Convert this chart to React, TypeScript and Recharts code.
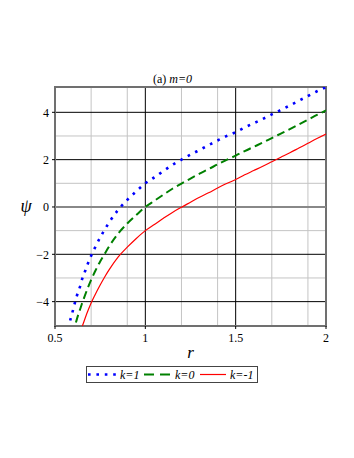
import { LineChart, Line, XAxis, YAxis, CartesianGrid, ReferenceLine, ReferenceArea, Legend } from "recharts";

// r samples and psi values
const rValues = [
  0.575, 0.58, 0.59, 0.6, 0.61, 0.62, 0.63, 0.64, 0.65, 0.66,
  0.68, 0.7, 0.72, 0.75, 0.775, 0.8, 0.85, 0.9, 0.95, 1,
  1.05, 1.1, 1.15, 1.2, 1.25, 1.3, 1.35, 1.4, 1.45, 1.5,
  1.55, 1.6, 1.65, 1.7, 1.75, 1.8, 1.85, 1.9, 1.95, 2,
];

const psiK1 = [
  -5.15, -4.93, -4.63, -4.35, -4.05, -3.78, -3.55, -3.33, -3.05, -2.85,
  -2.43, -2.06, -1.74, -1.29, -0.96, -0.65, -0.12, 0.3, 0.66, 1.0,
  1.25, 1.52, 1.78, 2.0, 2.21, 2.41, 2.61, 2.81, 3.0, 3.16,
  3.36, 3.54, 3.72, 3.91, 4.1, 4.29, 4.49, 4.69, 4.89, 5.06,
];

const psiK0 = [
  null, null, null, -5.4, -5.05, -4.77, -4.52, -4.3, -4.07, -3.86,
  -3.45, -3.08, -2.75, -2.3, -1.98, -1.66, -1.12, -0.7, -0.34, 0.0,
  0.26, 0.52, 0.77, 0.99, 1.2, 1.41, 1.6, 1.8, 1.99, 2.17,
  2.36, 2.54, 2.72, 2.91, 3.1, 3.29, 3.49, 3.69, 3.89, 4.08,
];

const psiKm1 = [
  null, null, null, null, null, null, null, -5.33, -5.07, -4.85,
  -4.43, -4.06, -3.74, -3.3, -2.96, -2.65, -2.11, -1.7, -1.33, -1.0,
  -0.74, -0.48, -0.23, -0.01, 0.2, 0.41, 0.6, 0.8, 0.99, 1.16,
  1.36, 1.54, 1.72, 1.91, 2.1, 2.29, 2.49, 2.69, 2.89, 3.08,
];

const xTicks = [0.5, 1, 1.5, 2];
const yTicks = [-4, -2, 0, 2, 4];
const xMinorGrid = [0.6, 0.7, 0.8, 0.9, 1.1, 1.2, 1.3, 1.4, 1.6, 1.7, 1.8, 1.9];
const xMajorGrid = [1, 1.5];
const yMinorGrid = [-3, -1, 1, 3];
const yMajorGrid = [-4, -2, 2, 4];
const xDomain: [number, number] = [0.5, 2];
const yDomain: [number, number] = [-5.03, 5.07];

const data = rValues.map((r, i) => ({ r, k1: psiK1[i], k0: psiK0[i], km1: psiKm1[i] }));

const FONT = "'Liberation Serif', 'Times New Roman', serif";
const tickStyle = { fontFamily: FONT, fontSize: 12, fill: "#000" };

const fmtY = (v: number) => (v < 0 ? `\u2212${Math.abs(v)}` : `${v}`);

const renderLegend = () => (
  <svg width={172} height={17} style={{ display: "block" }}>
    <rect x={0.5} y={0.5} width={171} height={16} fill="#fff" stroke="#444" strokeWidth={1} />
    <line x1={2} y1={8.5} x2={31} y2={8.5} stroke="#0000ff" strokeWidth={2.6} strokeDasharray="2.6 5.8" />
    <text x={34} y={13} fontFamily={FONT} fontSize={12} fontStyle="italic">k=1</text>
    <line x1={58} y1={8.5} x2={85} y2={8.5} stroke="#008000" strokeWidth={2} strokeDasharray="10 6" />
    <text x={89} y={13} fontFamily={FONT} fontSize={12} fontStyle="italic">k=0</text>
    <line x1={114} y1={8.5} x2={140} y2={8.5} stroke="#ff0000" strokeWidth={1.2} />
    <text x={144} y={13} fontFamily={FONT} fontSize={12} fontStyle="italic">k=-1</text>
  </svg>
);

export default function App() {
  return (
    <div style={{ position: "absolute", left: 0, top: 0, width: 354, height: 458, background: "#fff" }}>
      <div
        style={{
          position: "absolute", left: 122, top: 73, width: 101, textAlign: "center",
          fontFamily: FONT, fontSize: 12, lineHeight: "12px", zIndex: 2,
        }}
      >
        (a) <i>m=0</i>
      </div>
      <LineChart width={354} height={458} data={data} margin={{ top: 87, right: 28, bottom: 0, left: 0 }}>
        <CartesianGrid stroke="#c4c4c4" strokeWidth={1} verticalValues={xMinorGrid} horizontalValues={yMinorGrid} />
        <CartesianGrid stroke="#000" strokeWidth={1} verticalValues={xMajorGrid} horizontalValues={yMajorGrid} />
        <ReferenceLine y={0} stroke="#888" strokeWidth={2} />
        <XAxis
          type="number"
          dataKey="r"
          domain={xDomain}
          ticks={xTicks}
          allowDataOverflow
          height={132}
          axisLine={false}
          tickSize={3}
          tickMargin={4}
          tickLine={{ stroke: "#000" }}
          tick={tickStyle}
          label={({ viewBox }: any) => (
            <text x={viewBox.x + viewBox.width / 2} y={viewBox.y + 32} textAnchor="middle" fontFamily={FONT} fontSize={17} fontStyle="italic">
              r
            </text>
          )}
        />
        <YAxis
          type="number"
          domain={yDomain}
          ticks={yTicks}
          allowDataOverflow
          width={55}
          axisLine={false}
          tickSize={3}
          tickMargin={3}
          tickLine={{ stroke: "#000" }}
          tick={tickStyle}
          tickFormatter={fmtY}
          label={({ viewBox }: any) => (
            <text x={viewBox.x + 26} y={viewBox.y + viewBox.height / 2 + 5} textAnchor="middle" fontFamily={FONT} fontSize={18} fontStyle="italic">
              ψ
            </text>
          )}
        />
        <ReferenceArea x1={xDomain[0]} x2={xDomain[1]} y1={yDomain[0]} y2={yDomain[1]} fill="none" stroke="#707070" strokeWidth={2} />
        <Line type="monotone" dataKey="km1" stroke="#ff0000" strokeWidth={1.2} dot={false} isAnimationActive={false} />
        <Line type="monotone" dataKey="k0" stroke="#008000" strokeWidth={2} strokeDasharray="8 4.5" dot={false} isAnimationActive={false} />
        <Line type="monotone" dataKey="k1" stroke="#0000ff" strokeWidth={2.6} strokeDasharray="2.6 5.8" dot={false} isAnimationActive={false} />
        <Legend
          layout="horizontal"
          verticalAlign="middle"
          align="center"
          content={renderLegend}
          wrapperStyle={{ position: "absolute", left: 86, top: 366, width: 172, height: 17 }}
        />
      </LineChart>
    </div>
  );
}
